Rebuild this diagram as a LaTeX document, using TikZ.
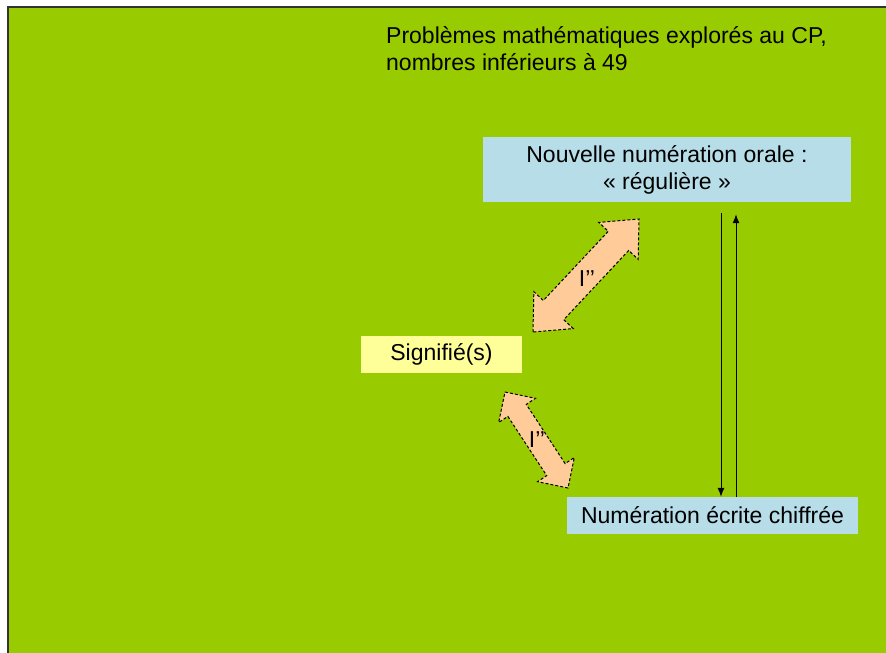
\documentclass[tikz,border=0pt]{standalone}
\usepackage{fontspec}
\setmainfont{Liberation Sans}
\usetikzlibrary{calc,arrows.meta}
\definecolor{bggreen}{HTML}{99CC00}
\definecolor{boxblue}{HTML}{B7DEE8}
\definecolor{boxyellow}{HTML}{FFFF99}
\definecolor{peach}{HTML}{FFCC99}
\tikzset{
  txt/.style={font=\fontsize{23}{27}\selectfont, text=black},
  bluebox/.style={txt, fill=boxblue, inner sep=0pt, align=center},
  yellowbox/.style={txt, fill=boxyellow, inner sep=0pt, align=center},
  thinarrow/.style={draw=black, line width=1pt, -{Latex[length=9pt,width=7pt]}},
  blockarrow/.style={fill=peach, draw=black, line width=1pt, dash pattern=on 3pt off 2pt},
}
% double block arrow: #1 tip A, #2 tip B, #3 shaft half width, #4 head half width, #5 head length
\newcommand{\dblarrow}[5]{%
  \path[blockarrow]
    ($(#1)!#5!(#2)$) coordinate (ha)
    ($(#2)!#5!(#1)$) coordinate (hb)
    (#1)
    -- ($(ha)!#4!90:(#2)$)
    -- ($(ha)!#3!90:(#2)$)
    -- ($(hb)!#3!-90:(#1)$)
    -- ($(hb)!#4!-90:(#1)$)
    -- (#2)
    -- ($(hb)!#4!90:(#1)$)
    -- ($(hb)!#3!90:(#1)$)
    -- ($(ha)!#3!-90:(#2)$)
    -- ($(ha)!#4!-90:(#2)$)
    -- cycle;%
}
\begin{document}
\begin{tikzpicture}[x=1pt,y=-1pt]
\useasboundingbox (0,0) rectangle (886,653);
\fill[white] (0,0) rectangle (886,653);
\draw[fill=bggreen, draw=black!80, line width=1.3pt] (8,7) rectangle (895,665);

\node[txt, anchor=base west, inner sep=0pt] (t1) at (386,43.5) {Problèmes mathématiques explorés au CP,};
\node[txt, anchor=base west, inner sep=0pt] (t2) at (386,70) {nombres inférieurs à 49};

\node[bluebox, minimum width=368pt, minimum height=65pt] (top) at (667,169.5)
  {Nouvelle numération orale :\\ « régulière »};
\node[bluebox, minimum width=291pt, minimum height=37pt] (bot) at (712.5,515.5)
  {Numération écrite chiffrée};
\node[yellowbox, minimum width=161pt, minimum height=37pt] (sig) at (441.5,354.5)
  {Signifié(s)};

\draw[thinarrow] ([xshift=54pt,yshift=-11pt]top.south) -- ([xshift=8.5pt]bot.north);
\draw[thinarrow] ([xshift=23.5pt]bot.north) -- ([xshift=69pt,yshift=-12pt]top.south);

\coordinate (a1) at (533,332);
\coordinate (b1) at (639,219);
\dblarrow{a1}{b1}{14pt}{27pt}{30pt}
\node[txt, inner sep=0pt] (l1) at (587,279) {I’’};

\coordinate (a2) at (505,392);
\coordinate (b2) at (568,488);
\dblarrow{a2}{b2}{11pt}{22pt}{22pt}
\node[txt, inner sep=0pt] (l2) at (537,440) {I’’};
\end{tikzpicture}
\end{document}
